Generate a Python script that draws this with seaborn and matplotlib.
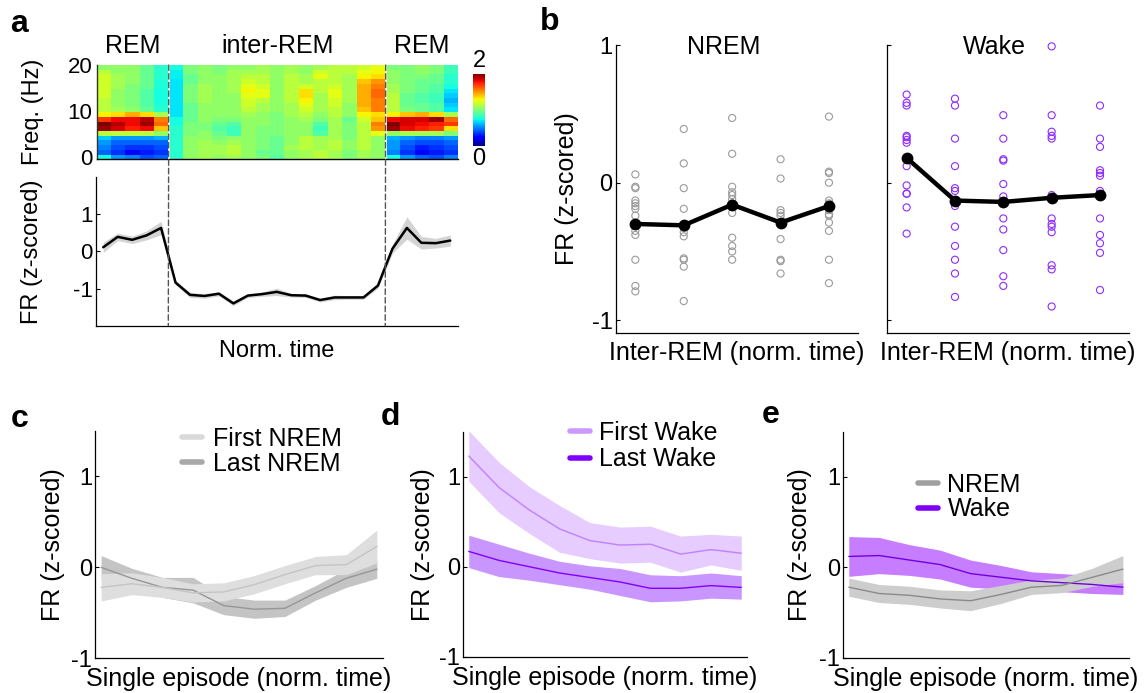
"""
Sleep-state firing-rate figure (panels a-e) redrawn with seaborn / matplotlib.
"""

import numpy as np
import pandas as pd
import matplotlib
matplotlib.use('Agg')
import matplotlib.pyplot as plt
from matplotlib.lines import Line2D
from matplotlib.patches import ConnectionPatch
import seaborn as sns

# ---------------- panel a: spectrogram, rows = freq bins (0 Hz at the bottom), 25 time bins
spec_power = [
    [0.75, 0.55, 0.50, 0.40, 0.45, 0.80, 1.05, 1.10, 1.05, 1.10, 1.05, 1.00, 0.90, 1.05, 1.10, 1.15, 1.10, 1.00, 1.10, 1.05, 0.75, 0.55, 0.45, 0.40, 0.50],
    [0.45, 0.35, 0.25, 0.30, 0.35, 0.80, 1.05, 1.10, 1.10, 1.15, 1.05, 0.95, 0.95, 1.05, 1.10, 1.15, 1.10, 1.00, 1.10, 1.05, 0.50, 0.35, 0.25, 0.30, 0.35],
    [0.50, 0.40, 0.35, 0.35, 0.40, 0.80, 1.05, 1.10, 1.10, 1.15, 1.05, 1.00, 0.95, 1.10, 1.15, 1.10, 1.15, 1.05, 1.15, 1.05, 0.55, 0.40, 0.30, 0.35, 0.40],
    [0.55, 0.45, 0.45, 0.45, 0.45, 0.80, 1.05, 1.10, 1.05, 1.10, 1.05, 1.00, 0.95, 1.05, 1.15, 1.10, 1.15, 1.05, 1.15, 1.05, 0.55, 0.45, 0.40, 0.40, 0.45],
    [0.65, 0.55, 0.55, 0.55, 0.60, 0.80, 1.05, 1.05, 1.00, 1.05, 1.05, 1.00, 0.95, 1.05, 1.15, 1.10, 1.10, 1.00, 1.15, 1.05, 0.60, 0.55, 0.50, 0.50, 0.55],
    [1.15, 1.15, 1.15, 1.15, 1.05, 0.80, 1.00, 1.05, 0.95, 0.85, 1.05, 1.00, 1.00, 1.05, 1.05, 0.90, 1.10, 1.00, 1.15, 1.25, 1.05, 1.10, 1.10, 1.10, 1.00],
    [1.95, 1.85, 1.75, 1.80, 1.40, 0.80, 1.00, 1.00, 0.90, 0.85, 1.05, 1.00, 1.00, 1.05, 1.05, 0.85, 1.10, 1.00, 1.15, 1.50, 1.95, 1.80, 1.75, 1.70, 1.35],
    [2.00, 1.90, 1.80, 1.95, 1.60, 0.75, 1.00, 1.00, 0.95, 0.90, 1.05, 1.05, 1.00, 1.05, 1.05, 0.90, 1.10, 1.00, 1.15, 1.55, 2.00, 1.85, 1.80, 1.75, 1.70],
    [1.70, 1.80, 1.80, 1.90, 1.55, 0.75, 0.95, 1.05, 1.00, 1.00, 1.05, 1.05, 1.00, 1.05, 1.10, 1.00, 1.10, 0.95, 1.20, 1.40, 1.80, 1.85, 1.85, 1.95, 1.60],
    [1.30, 1.35, 1.45, 1.35, 1.10, 0.70, 0.95, 1.05, 1.05, 1.05, 1.10, 1.05, 1.00, 1.10, 1.15, 1.05, 1.15, 1.05, 1.30, 1.35, 1.30, 1.40, 1.45, 1.35, 1.10],
    [1.15, 1.10, 1.05, 0.95, 0.80, 0.70, 0.95, 1.05, 1.05, 1.05, 1.15, 1.10, 1.05, 1.10, 1.20, 1.10, 1.15, 1.05, 1.40, 1.55, 1.15, 1.00, 0.95, 0.90, 0.70],
    [1.15, 1.05, 1.00, 0.90, 0.78, 0.70, 0.95, 1.05, 1.05, 1.05, 1.20, 1.10, 1.05, 1.10, 1.25, 1.10, 1.20, 1.05, 1.45, 1.55, 1.15, 0.95, 0.95, 0.90, 0.65],
    [1.15, 1.05, 1.00, 0.90, 0.75, 0.70, 1.00, 1.10, 1.05, 1.05, 1.20, 1.15, 1.05, 1.15, 1.30, 1.10, 1.20, 1.10, 1.45, 1.55, 1.15, 0.95, 0.90, 0.85, 0.60],
    [1.20, 1.05, 1.00, 0.90, 0.75, 0.70, 1.00, 1.10, 1.05, 1.05, 1.25, 1.25, 1.05, 1.15, 1.35, 1.10, 1.25, 1.10, 1.45, 1.60, 1.15, 0.95, 0.90, 0.85, 0.65],
    [1.20, 1.05, 1.00, 0.90, 0.75, 0.70, 1.00, 1.10, 1.05, 1.10, 1.30, 1.25, 1.05, 1.15, 1.35, 1.15, 1.25, 1.10, 1.45, 1.60, 1.10, 1.00, 0.95, 0.90, 0.70],
    [1.20, 1.10, 1.00, 0.95, 0.78, 0.70, 1.00, 1.10, 1.05, 1.10, 1.25, 1.20, 1.05, 1.15, 1.20, 1.15, 1.20, 1.10, 1.45, 1.55, 1.10, 1.00, 0.95, 0.90, 0.75],
    [1.20, 1.10, 1.05, 0.95, 0.78, 0.70, 0.95, 1.05, 1.05, 1.10, 1.20, 1.15, 1.05, 1.15, 1.10, 1.15, 1.15, 1.10, 1.40, 1.50, 1.05, 1.00, 0.95, 0.95, 0.80],
    [1.20, 1.10, 1.05, 0.95, 0.80, 0.72, 0.95, 1.05, 1.05, 1.10, 1.15, 1.15, 1.05, 1.15, 1.10, 1.25, 1.15, 1.10, 1.30, 1.35, 1.05, 1.00, 1.00, 0.95, 0.80],
    [1.15, 1.05, 1.05, 0.95, 0.80, 0.72, 1.00, 1.05, 1.00, 1.10, 1.10, 1.10, 1.05, 1.10, 1.05, 1.20, 1.15, 1.15, 1.25, 1.30, 1.05, 1.00, 1.05, 1.00, 0.85],
    [1.05, 1.05, 1.05, 0.95, 0.80, 0.75, 1.00, 1.05, 1.00, 1.05, 1.05, 1.10, 1.05, 1.10, 1.05, 1.10, 1.15, 1.15, 1.20, 1.25, 1.00, 1.00, 1.05, 1.00, 0.85],
]
freq_range = (-0.5, 20.0)          # lower / upper edge of the spectrogram (Hz)
freq_ticks = [0, 10, 20]
segment_labels = ['REM', 'inter-REM', 'REM']
segment_edges = [0, 5, 20, 25]

fr_time = [0.11, 0.39, 0.31, 0.43, 0.63, -0.84, -1.17, -1.20, -1.14, -1.40, -1.19, -1.15, -1.09,
           -1.18, -1.19, -1.31, -1.24, -1.24, -1.24, -0.92, 0.07, 0.63, 0.23, 0.22, 0.29]
fr_time_sem = [0.14, 0.10, 0.10, 0.12, 0.18, 0.06, 0.07, 0.06, 0.06, 0.06, 0.05, 0.06, 0.10,
               0.05, 0.05, 0.05, 0.06, 0.05, 0.05, 0.07, 0.12, 0.30, 0.17, 0.13, 0.15]

# ---------------- panel b: single units per inter-REM bin
nrem_points = [
    [0.06, -0.03, -0.04, -0.13, -0.15, -0.17, -0.19, -0.24, -0.30, -0.35, -0.38, -0.56, -0.75, -0.79],
    [0.39, 0.14, -0.04, -0.19, -0.31, -0.33, -0.36, -0.39, -0.55, -0.56, -0.61, -0.86],
    [0.47, 0.21, -0.03, -0.07, -0.09, -0.12, -0.15, -0.22, -0.40, -0.46, -0.50, -0.56],
    [0.17, 0.03, -0.20, -0.22, -0.24, -0.29, -0.41, -0.56, -0.57, -0.66],
    [0.48, 0.08, 0.07, 0.00, -0.13, -0.15, -0.20, -0.23, -0.24, -0.29, -0.35, -0.56, -0.73],
]
nrem_means = [-0.30, -0.31, -0.16, -0.29, -0.17]

wake_points = [
    [0.64, 0.58, 0.56, 0.34, 0.33, 0.31, 0.29, 0.12, -0.02, -0.08, -0.08, -0.18, -0.37],
    [0.61, 0.56, 0.32, 0.12, -0.04, -0.06, -0.17, -0.32, -0.46, -0.56, -0.66, -0.83],
    [0.49, 0.32, 0.17, 0.16, -0.01, -0.10, -0.14, -0.26, -0.34, -0.49, -0.68, -0.75],
    [0.99, 0.49, 0.37, 0.34, 0.32, -0.09, -0.26, -0.30, -0.32, -0.36, -0.60, -0.63, -0.90],
    [0.56, 0.32, 0.26, 0.09, 0.07, 0.05, -0.06, -0.26, -0.38, -0.44, -0.51, -0.78],
]
wake_means = [0.18, -0.13, -0.14, -0.11, -0.09]

# ---------------- panels c-e: single episode, 10 normalised time bins
episode_bins = [1, 2, 3, 4, 5, 6, 7, 8, 9, 10]

first_nrem = [-0.22, -0.18, -0.22, -0.28, -0.27, -0.19, -0.08, 0.02, 0.03, 0.23]
first_nrem_sem = [0.15, 0.12, 0.11, 0.10, 0.10, 0.10, 0.10, 0.10, 0.11, 0.18]
last_nrem = [0.00, -0.12, -0.22, -0.25, -0.42, -0.46, -0.45, -0.28, -0.12, -0.02]
last_nrem_sem = [0.13, 0.11, 0.11, 0.14, 0.10, 0.10, 0.09, 0.08, 0.10, 0.10]

first_wake = [1.23, 0.88, 0.63, 0.42, 0.29, 0.24, 0.25, 0.14, 0.19, 0.15]
first_wake_sem = [0.28, 0.28, 0.26, 0.26, 0.20, 0.20, 0.20, 0.20, 0.17, 0.19]
last_wake = [0.17, 0.07, 0.00, -0.07, -0.12, -0.17, -0.24, -0.24, -0.21, -0.23]
last_wake_sem = [0.18, 0.18, 0.15, 0.13, 0.13, 0.15, 0.15, 0.14, 0.14, 0.13]

all_nrem = [-0.22, -0.29, -0.31, -0.35, -0.37, -0.30, -0.22, -0.20, -0.11, -0.02]
all_nrem_sem = [0.10, 0.10, 0.10, 0.10, 0.11, 0.10, 0.08, 0.08, 0.10, 0.15]
all_wake = [0.12, 0.13, 0.08, 0.03, -0.07, -0.11, -0.15, -0.17, -0.19, -0.22]
all_wake_sem = [0.22, 0.20, 0.17, 0.16, 0.15, 0.13, 0.10, 0.10, 0.10, 0.08]

# ---------------- style
sns.set_style('ticks', {'axes.edgecolor': 'black', 'xtick.direction': 'in', 'ytick.direction': 'in',
                        'text.color': 'black', 'axes.labelcolor': 'black',
                        'xtick.color': 'black', 'ytick.color': 'black'})
plt.rcParams['font.family'] = ['Liberation Sans', 'DejaVu Sans']
plt.rcParams.update({
    'axes.unicode_minus': False,
    'axes.linewidth': 0.9,
    'ytick.major.size': 3,
    'ytick.major.width': 0.8,
    'ytick.major.pad': 2.5,
    'ytick.labelsize': 17,
    'axes.labelsize': 18,
})

PURPLE = '#8000ff'
W, H = 1147, 693
fig = plt.figure(figsize=(W / 100, H / 100), dpi=100)


def add_ax(x, y, w, h):
    """axes from pixel box (top-left origin)"""
    return fig.add_axes([x / W, 1 - (y + h) / H, w / W, h / H])


def set_labels(ax, xlabel, ylabel, x_drop, y_left, size=18):
    bb = ax.get_position()
    ax.set_xlabel(xlabel, fontsize=size)
    ax.set_ylabel(ylabel, fontsize=size)
    ax.xaxis.set_label_coords(0.5, -x_drop / (bb.height * H))
    ax.yaxis.set_label_coords(-y_left / (bb.width * W), 0.5)


def panel_letter(x, baseline, letter):
    fig.text(x / W, 1 - baseline / H, letter, fontsize=23, fontweight='bold',
             ha='left', va='baseline', color='black')


# ================= panel a (top): spectrogram
ax_heat = add_ax(96.5, 65, 361.5, 94.3)
ax_cbar = add_ax(473, 74, 12, 72)
spec = np.array(spec_power)
sns.heatmap(spec[::-1], cmap='jet', vmin=0, vmax=2, ax=ax_heat, cbar_ax=ax_cbar,
            xticklabels=False, yticklabels=False)
n_rows = spec.shape[0]
lo, hi = freq_range
ax_heat.set_yticks([n_rows * (hi - f) / (hi - lo) for f in freq_ticks])
ax_heat.set_yticklabels([str(f) for f in freq_ticks], rotation=0, fontsize=16)
ax_heat.tick_params(axis='y', left=True, direction='in', length=3, width=0.8, pad=3)
ax_heat.tick_params(axis='x', bottom=False)
for side in ['left', 'bottom']:
    ax_heat.spines[side].set_visible(True)
    ax_heat.spines[side].set_linewidth(1.0)
ax_heat.spines['left'].set_color('#333333')
ax_heat.set_ylabel('Freq. (Hz)', fontsize=17)
ax_heat.yaxis.set_label_coords(-53 / 361.5, 0.5)

for lab, a, b in zip(segment_labels, segment_edges[:-1], segment_edges[1:]):
    ax_heat.text((a + b) / 2, 1.125, lab, transform=ax_heat.get_xaxis_transform(),
                 ha='center', va='baseline', fontsize=18)

cbar = ax_heat.collections[0].colorbar
cbar.outline.set_visible(False)
cbar.set_ticks([])
ax_cbar.text(0.5, 1.03, '2', transform=ax_cbar.transAxes, ha='center', va='bottom', fontsize=17)
ax_cbar.text(0.5, -0.03, '0', transform=ax_cbar.transAxes, ha='center', va='top', fontsize=17)

# ================= panel a (bottom): population firing rate
ax_fr = add_ax(96, 177, 361.5, 148.7)
time_bins = np.arange(len(fr_time)) + 0.5
fr = np.array(fr_time)
fr_sem = np.array(fr_time_sem)
ax_fr.fill_between(time_bins, fr - fr_sem, fr + fr_sem, color='#d4d4d4', lw=0)
sns.lineplot(x=time_bins, y=fr, color='black', lw=1.8, ax=ax_fr)
ax_fr.set_xlim(segment_edges[0], segment_edges[-1])
ax_fr.set_ylim(-2, 2)
ax_fr.set_yticks([-1, 0, 1])
ax_fr.set_xticks([])
ax_fr.tick_params(axis='y', labelsize=16)
sns.despine(ax=ax_fr)
set_labels(ax_fr, 'Norm. time', 'FR (z-scored)', 14, 53, size=17)

# dashed REM boundaries running through both axes
for edge in segment_edges[1:-1]:
    ax_heat.axvline(edge, color='white', lw=1.4)
    con = ConnectionPatch(xyA=(edge, 0), coordsA=ax_heat.transData,
                          xyB=(edge, -2), coordsB=ax_fr.transData,
                          linestyle=(0, (4, 2.2)), color='#555555', lw=1.0)
    fig.add_artist(con)

panel_letter(10, 32, 'a')

# ================= panel b


def points_frame(columns):
    rows = []
    for i, vals in enumerate(columns, start=1):
        rows += [(i, v) for v in vals]
    return pd.DataFrame(rows, columns=['bin', 'fr'])


b_boxes = [(616, 45, 242, 287.7), (887.3, 45, 241.7, 287.7)]
b_sets = [('NREM', nrem_points, nrem_means, '#9a9a9a'),
          ('Wake', wake_points, wake_means, '#8f2bff')]
for k, ((x, y, w, h), (title, pts, means, col)) in enumerate(zip(b_boxes, b_sets)):
    ax = add_ax(x, y, w, h)
    df = points_frame(pts)
    sns.scatterplot(data=df, x='bin', y='fr', ax=ax, color=col, s=26, linewidth=0.8,
                    legend=False, zorder=2, clip_on=False)
    coll = ax.collections[-1]
    coll.set_facecolor('none')
    coll.set_edgecolor(col)
    bins = list(range(1, len(means) + 1))
    sns.lineplot(x=bins, y=means, ax=ax, color='black', lw=3.2, marker='o',
                 markersize=8.5, markeredgewidth=0, zorder=3)
    ax.set_xlim(0.6, 5.6)
    ax.set_ylim(-1.09, 1.0)
    ax.set_yticks([-1, 0, 1])
    ax.set_xticks([])
    sns.despine(ax=ax)
    ax.text(0.445, 0.969, title, transform=ax.transAxes, ha='center', va='baseline', fontsize=18)
    if k == 0:
        set_labels(ax, 'Inter-REM (norm. time)', 'FR (z-scored)', 8, 37)
    else:
        ax.tick_params(axis='y', labelleft=False)
        set_labels(ax, 'Inter-REM (norm. time)', '', 8, 37)

panel_letter(540, 30, 'b')

# ================= panels c-e


def band(ax, mean, sem, band_color, line_color):
    m = np.array(mean)
    s = np.array(sem)
    ax.fill_between(episode_bins, m - s, m + s, color=band_color, lw=0)
    sns.lineplot(x=episode_bins, y=m, color=line_color, lw=1.0, ax=ax)


def episode_axes(box, y_left):
    ax = add_ax(*box)
    ax.set_xlim(0.8, 10.2)
    ax.set_ylim(-1, 1.5)
    ax.set_yticks([-1, 0, 1])
    ax.set_xticks([])
    ax.tick_params(axis='y', pad=2)
    sns.despine(ax=ax)
    set_labels(ax, 'Single episode (norm. time)', 'FR (z-scored)', 9, y_left)
    return ax


def legend(ax, entries, anchor, spacing, textpad):
    handles = [Line2D([], [], color=c, lw=4) for _, c in entries]
    ax.legend(handles, [lab for lab, _ in entries], loc='center left', bbox_to_anchor=anchor,
              frameon=False, fontsize=18, handlelength=0.8, handletextpad=textpad,
              labelspacing=spacing, borderpad=0, borderaxespad=0)


ax_c = episode_axes((95, 431, 288, 227.3), 30)
band(ax_c, last_nrem, last_nrem_sem, '#c4c4c4', '#969696')
band(ax_c, first_nrem, first_nrem_sem, '#dedede', '#c4c4c4')
legend(ax_c, [('First NREM', '#d9d9d9'), ('Last NREM', '#a8a8a8')], (0.302, 0.91), 0.03, 0.45)
panel_letter(11, 427, 'c')

ax_d = episode_axes((462.7, 431.7, 284.6, 225), 28)
band(ax_d, first_wake, first_wake_sem, '#e6ccff', '#c080ff')
band(ax_d, last_wake, last_wake_sem, '#c996ff', PURPLE)
legend(ax_d, [('First Wake', '#cc99ff'), ('Last Wake', PURPLE)], (0.377, 0.935), 0.09, 0.38)
panel_letter(381, 425, 'd')

ax_e = episode_axes((842.7, 431.7, 286.3, 226), 31)
band(ax_e, all_wake, all_wake_sem, '#c77dff', '#7000e0')
band(ax_e, all_nrem, all_nrem_sem, '#cdcdcd', '#8a8a8a')
legend(ax_e, [('NREM', '#a0a0a0'), ('Wake', PURPLE)], (0.263, 0.71), 0.02, 0.38)
panel_letter(762, 423, 'e')

fig.savefig('out.png', dpi=100)
